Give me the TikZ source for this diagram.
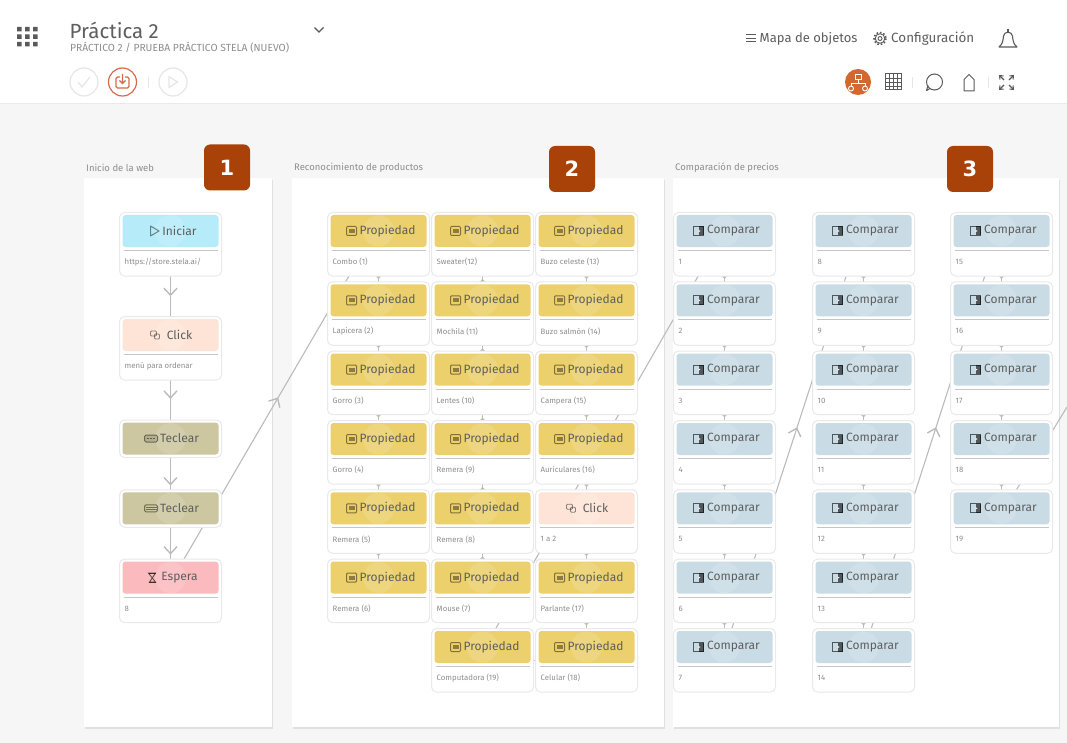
\documentclass[tikz,border=0pt]{standalone}
\usepackage{fontspec}
\setmainfont{Fira Sans}
\newfontfamily\badgefont{DejaVu Sans}
\usetikzlibrary{
    arrows.meta,
    calc,
    decorations.markings,
    positioning,
    shadows
}
\definecolor{pagebg}{HTML}{F6F6F6}
\definecolor{cardline}{HTML}{E9E9E9}
\definecolor{divline}{HTML}{C6C6C6}
\definecolor{linkline}{HTML}{BBBBBB}
\definecolor{labelgray}{HTML}{8E8E8E}
\definecolor{titlegray}{HTML}{5E5E5E}
\definecolor{iniciarfill}{HTML}{B6ECFA}
\definecolor{clickfill}{HTML}{FEE4D6}
\definecolor{teclearfill}{HTML}{CCC7A0}
\definecolor{esperafill}{HTML}{FBBBBE}
\definecolor{propfill}{HTML}{ECD06B}
\definecolor{cmpfill}{HTML}{C9DCE5}
\definecolor{badgefill}{HTML}{A84208}
\definecolor{iconred}{HTML}{D9694C}
\definecolor{iconorange}{HTML}{D2672F}
\definecolor{topicon}{HTML}{5A5A5A}
\definecolor{faint}{HTML}{E6E6E6}
\pgfdeclarelayer{panels}
\pgfdeclarelayer{links}
\pgfsetlayers{panels,links,main}
\tikzset{
    panelbox/.style={fill=white, anchor=north west, inner sep=0pt,
        drop shadow={opacity=.18, shadow xshift=1pt, shadow yshift=-1.5pt}},
    paneltitle/.style={anchor=west, inner sep=0pt, text=labelgray, font=\fontsize{9.5}{10}\selectfont},
    badgebox/.style={fill=badgefill, rounded corners=6pt, minimum size=46pt, inner sep=0pt,
        text=white, font=\badgefont\bfseries\fontsize{21}{22}\selectfont},
    cardbox/.style={draw=cardline, fill=white, line width=1pt, rounded corners=5pt, anchor=north,
        minimum width=102pt, minimum height=63.5pt, inner sep=0pt},
    slimbox/.style={cardbox, minimum height=37.5pt},
    headbox/.style={fill=#1, rounded corners=3pt, minimum width=96pt, minimum height=32pt, inner sep=0pt},
    cardtitle/.style={inner sep=0pt, text=titlegray, font=\fontsize{12}{14}\selectfont},
    cardlabel/.style={anchor=west, inner sep=0pt, text=labelgray, font=\fontsize{7.8}{9}\selectfont},
    link/.style={draw=linkline, line width=1.1pt,
        decoration={markings, mark=at position #1 with {\arrow[line width=1.4pt]{Straight Barb[length=7pt,width=13pt]}}},
        postaction={decorate}},
    link/.default=0.5,
    mainlink/.style={link=#1, line width=1.8pt},
    mainlink/.default=0.5,
    topbtn/.style={draw=faint, line width=1.2pt},
    icon/.style={draw=black, draw opacity=.45, line width=1pt},
    propicon/.pic={
        \draw[icon, rounded corners=1pt] (-32,-4.5) rectangle (-22,4.5);
        \fill[black, opacity=.4] (-30,-2) rectangle (-24,2);
    },
    cmpicon/.pic={
        \draw[draw=black, draw opacity=.6, line width=1pt] (-31,-4.5) rectangle (-21,4.5);
        \fill[black, opacity=.6] (-26,-4.5) rectangle (-21,4.5);
        \fill[white] (-26,-1) -- (-24,0) -- (-26,1) -- cycle;
    },
    playicon/.pic={
        \draw[icon, line join=round] (-20,-5) -- (-11.5,0) -- (-20,5) -- cycle;
    },
    clickicon/.pic={
        \draw[icon, line width=.8pt, rounded corners=1pt] (-20,-4) rectangle (-14,1);
        \draw[icon, line width=.8pt, rounded corners=1pt] (-16,-1) rectangle (-11,4);
    },
    keysicon/.pic={
        \draw[icon, rounded corners=1.5pt, fill=black, fill opacity=.12] (-26,-3.5) rectangle (-13,3.5);
        \draw[icon, line width=.5pt, densely dotted] (-24,0) -- (-15,0);
    },
    linesicon/.pic={
        \draw[icon, rounded corners=1.5pt] (-26,-3.5) rectangle (-13,3.5);
        \draw[icon, line width=.6pt] (-25,-1.2) -- (-14,-1.2) (-25,1.2) -- (-14,1.2);
    },
    waiticon/.pic={
        \draw[draw=black, draw opacity=.6, line width=.9pt] (-22,-4.5) -- (-15,-4.5) -- (-21,4.5) -- (-15,4.5) -- (-22,-4.5) -- cycle;
        \draw[draw=black, draw opacity=.6, line width=.9pt] (-22,-4.5) -- (-15,-4.5) (-22,4.5) -- (-15,4.5);
    }
}
% name, centre x, top y, colour, icon, title, label
\newcommand{\card}[7]{
    \node[cardbox] (#1) at (#2,#3) {};
    \node[headbox=#4] (#1head) at (#2,#3+19) {};
    \fill[white, opacity=.13] (#1head.center) circle (15.5);
    \pic at (#1head.center) {#5};
    \node[cardtitle] (#1title) at ([xshift=9pt]#1head.center) {#6};
    \draw[divline, line width=1.2pt] (#2-47,#3+38.5) -- (#2+47,#3+38.5);
    \node[cardlabel] (#1label) at (#2-46,#3+50) {#7};
}
\newcommand{\slimcard}[6]{
    \node[slimbox] (#1) at (#2,#3) {};
    \node[headbox=#4] (#1head) at (#2,#3+19) {};
    \fill[white, opacity=.13] (#1head.center) circle (15.5);
    \pic at (#1head.center) {#5};
    \node[cardtitle] (#1title) at ([xshift=9pt]#1head.center) {#6};
}
\begin{document}
\begin{tikzpicture}[x=1pt, y=-1pt]
    \useasboundingbox (0,0) rectangle (1067,743);

    % page and panels
    \begin{pgfonlayer}{panels}
        \fill[pagebg] (0,0) rectangle (1067,743);
        \fill[white] (0,0) rectangle (1067,103);
        \draw[cardline] (0,103.5) -- (1067,103.5);
        \node[panelbox, minimum width=188pt, minimum height=549pt] (panelweb) at (84,178) {};
        \node[panelbox, minimum width=372pt, minimum height=549pt] (panelprod) at (292,178) {};
        \node[panelbox, minimum width=386pt, minimum height=549pt] (panelprice) at (673,178) {};
    \end{pgfonlayer}

    \node[paneltitle] (titleweb) at (86,168) {Inicio de la web};
    \node[paneltitle] (titleprod) at (294,168) {Reconocimiento de productos};
    \node[paneltitle] (titleprice) at (675,168) {Comparación de precios};

    \node[badgebox] (badgea) at (227,167.5) {1};
    \node[badgebox] (badgeb) at (572,169) {2};
    \node[badgebox] (badgec) at (970,169) {3};

    % top bar
    \fill[topicon] (17,27) rectangle (21.5,31.5) (25,27) rectangle (29.5,31.5) (33,27) rectangle (37.5,31.5);
    \fill[topicon] (17,34.5) rectangle (21.5,39) (25,34.5) rectangle (29.5,39) (33,34.5) rectangle (37.5,39);
    \fill[topicon] (17,42) rectangle (21.5,46.5) (25,42) rectangle (29.5,46.5) (33,42) rectangle (37.5,46.5);
    \node[anchor=west, inner sep=0pt, text=titlegray, font=\fontsize{20.5}{22}\selectfont] (pagetitle) at (69.5,30) {Práctica 2};
    \node[anchor=west, inner sep=0pt, text=labelgray, font=\fontsize{10.3}{11}\selectfont] (pagesub) at (70,48) {PRÁCTICO 2 / PRUEBA PRÁCTICO STELA (NUEVO)};
    \draw[topicon, line width=1.2pt] (314.5,27.5) -- (319,32) -- (323.5,27.5);

    \draw[topbtn] (84,82) circle (14);
    \draw[faint, line width=1.2pt] (78,82) -- (82,87) -- (90,77);
    \draw[iconred, line width=1.2pt] (122.5,82) circle (14);
    \draw[iconred, line width=1.2pt, rounded corners=1.5pt] (120,77) -- (116,77) -- (116,88) -- (129,88) -- (129,77) -- (125,77);
    \draw[iconred, line width=1.2pt] (122.5,74) -- (122.5,83) (119.5,80.5) -- (122.5,83.5) -- (125.5,80.5);
    \draw[faint, line width=1pt] (148,77) -- (148,88);
    \draw[topbtn] (173,82) circle (14);
    \draw[faint, line width=1.2pt, line join=round] (169,76.5) -- (177.5,82) -- (169,87.5) -- cycle;

    \draw[topicon, line width=1pt] (746,35) -- (756,35) (746,38.5) -- (756,38.5) (746,42) -- (756,42);
    \node[anchor=west, inner sep=0pt, text=titlegray, font=\fontsize{13}{15}\selectfont] (mapatext) at (759.5,38.5) {Mapa de objetos};
    \draw[topicon, line width=.9pt] (880,38.5) circle (4.8) (880,38.5) circle (2);
    \draw[topicon, line width=1.5pt, dash pattern=on 1.6pt off 1.9pt] (880,38.5) circle (6);
    \node[anchor=west, inner sep=0pt, text=titlegray, font=\fontsize{13.4}{15}\selectfont] (configtext) at (891,38.5) {Configuración};
    \draw[topicon, line width=1.1pt, line join=round] (999,47) .. controls (1003,44) and (1003,40) .. (1003.5,36) .. controls (1004,31) and (1012,31) .. (1012.5,36) .. controls (1013,40) and (1013,44) .. (1017,47) -- cycle;
    \draw[topicon, line width=1.1pt] (1008,29) -- (1008,32);

    \fill[iconorange] (858,82) circle (13);
    \draw[white, line width=.9pt] (855,74.5) rectangle (861,79.5);
    \draw[white, line width=.9pt] (858,79.5) -- (858,83) (851,86) -- (851,83) -- (865,83) -- (865,86);
    \draw[white, line width=.9pt] (851,88.5) circle (2.5) (865,88.5) circle (2.5);
    \draw[topicon, line width=1pt] (885,74) rectangle (901,90);
    \draw[topicon, line width=.5pt] (885,78) -- (901,78) (885,82) -- (901,82) (885,86) -- (901,86) (889,74) -- (889,90) (893,74) -- (893,90) (897,74) -- (897,90);
    \draw[faint, line width=1pt] (912,77) -- (912,88);
    \draw[topicon, line width=1pt] (934.5,82) circle (8);
    \draw[topicon, line width=1pt, line join=round] (930,88.5) -- (926.5,90.5) -- (928,85.5);
    \draw[topicon, line width=1pt, line join=round] (964,91) -- (964,79.5) -- (969,74.5) -- (974,79.5) -- (974,91) -- cycle;
    \draw[faint, line width=1pt] (988,77) -- (988,88);
    \draw[topicon, line width=1.1pt, -{Straight Barb[length=3pt,width=5pt]}] (1004,80) -- (999,75);
    \draw[topicon, line width=1.1pt, -{Straight Barb[length=3pt,width=5pt]}] (1009,80) -- (1014,75);
    \draw[topicon, line width=1.1pt, -{Straight Barb[length=3pt,width=5pt]}] (1004,85) -- (999,90);
    \draw[topicon, line width=1.1pt, -{Straight Barb[length=3pt,width=5pt]}] (1009,85) -- (1014,90);

    % inicio de la web
    \card{iniciar}{170.5}{212}{iniciarfill}{playicon}{Iniciar}{https://store.stela.ai/}
    \card{menuclick}{170.5}{316}{clickfill}{clickicon}{Click}{menú para ordenar}
    \slimcard{teclara}{170.5}{419.5}{teclearfill}{keysicon}{Teclear}
    \slimcard{teclarb}{170.5}{489.3}{teclearfill}{linesicon}{Teclear}
    \card{espera}{170.5}{558.6}{esperafill}{waiticon}{Espera}{8}

    % reconocimiento de productos
    \card{prop1}{378.5}{212}{propfill}{propicon}{Propiedad}{Combo (1)}
    \card{prop2}{378.5}{281.3}{propfill}{propicon}{Propiedad}{Lapicera (2)}
    \card{prop3}{378.5}{350.6}{propfill}{propicon}{Propiedad}{Gorro (3)}
    \card{prop4}{378.5}{420}{propfill}{propicon}{Propiedad}{Gorro (4)}
    \card{prop5}{378.5}{489.3}{propfill}{propicon}{Propiedad}{Remera (5)}
    \card{prop6}{378.5}{558.6}{propfill}{propicon}{Propiedad}{Remera (6)}

    \card{prop12}{482.5}{212}{propfill}{propicon}{Propiedad}{Sweater(12)}
    \card{prop11}{482.5}{281.3}{propfill}{propicon}{Propiedad}{Mochila (11)}
    \card{prop10}{482.5}{350.6}{propfill}{propicon}{Propiedad}{Lentes (10)}
    \card{prop9}{482.5}{420}{propfill}{propicon}{Propiedad}{Remera (9)}
    \card{prop8}{482.5}{489.3}{propfill}{propicon}{Propiedad}{Remera (8)}
    \card{prop7}{482.5}{558.6}{propfill}{propicon}{Propiedad}{Mouse (7)}
    \card{prop19}{482.5}{628}{propfill}{propicon}{Propiedad}{Computadora (19)}

    \card{prop13}{586.5}{212}{propfill}{propicon}{Propiedad}{Buzo celeste (13)}
    \card{prop14}{586.5}{281.3}{propfill}{propicon}{Propiedad}{Buzo salmón (14)}
    \card{prop15}{586.5}{350.6}{propfill}{propicon}{Propiedad}{Campera (15)}
    \card{prop16}{586.5}{420}{propfill}{propicon}{Propiedad}{Auriculares (16)}
    \card{propclick}{586.5}{489.3}{clickfill}{clickicon}{Click}{1 a 2}
    \card{prop17}{586.5}{558.6}{propfill}{propicon}{Propiedad}{Parlante (17)}
    \card{prop18}{586.5}{628}{propfill}{propicon}{Propiedad}{Celular (18)}

    % comparacion de precios
    \card{cmp1}{724.5}{212}{cmpfill}{cmpicon}{Comparar}{1}
    \card{cmp2}{724.5}{281.3}{cmpfill}{cmpicon}{Comparar}{2}
    \card{cmp3}{724.5}{350.6}{cmpfill}{cmpicon}{Comparar}{3}
    \card{cmp4}{724.5}{420}{cmpfill}{cmpicon}{Comparar}{4}
    \card{cmp5}{724.5}{489.3}{cmpfill}{cmpicon}{Comparar}{5}
    \card{cmp6}{724.5}{558.6}{cmpfill}{cmpicon}{Comparar}{6}
    \card{cmp7}{724.5}{628}{cmpfill}{cmpicon}{Comparar}{7}

    \card{cmp8}{863.5}{212}{cmpfill}{cmpicon}{Comparar}{8}
    \card{cmp9}{863.5}{281.3}{cmpfill}{cmpicon}{Comparar}{9}
    \card{cmp10}{863.5}{350.6}{cmpfill}{cmpicon}{Comparar}{10}
    \card{cmp11}{863.5}{420}{cmpfill}{cmpicon}{Comparar}{11}
    \card{cmp12}{863.5}{489.3}{cmpfill}{cmpicon}{Comparar}{12}
    \card{cmp13}{863.5}{558.6}{cmpfill}{cmpicon}{Comparar}{13}
    \card{cmp14}{863.5}{628}{cmpfill}{cmpicon}{Comparar}{14}

    \card{cmp15}{1001.5}{212}{cmpfill}{cmpicon}{Comparar}{15}
    \card{cmp16}{1001.5}{281.3}{cmpfill}{cmpicon}{Comparar}{16}
    \card{cmp17}{1001.5}{350.6}{cmpfill}{cmpicon}{Comparar}{17}
    \card{cmp18}{1001.5}{420}{cmpfill}{cmpicon}{Comparar}{18}
    \card{cmp19}{1001.5}{489.3}{cmpfill}{cmpicon}{Comparar}{19}

    \coordinate (nextpanel) at (1067,407);

    % connectors run under the cards
    \begin{pgfonlayer}{links}
        \draw
        (iniciar.center) edge[mainlink] (menuclick.center)
        (menuclick.center) edge[mainlink=0.56] (teclara.center)
        (teclara.center) edge[mainlink=0.67] (teclarb.center)
        (teclarb.center) edge[mainlink=0.56] (espera.center)
        ([xshift=-5pt]espera.center) edge[link=0.558] ([xshift=-11pt]prop1.center)
        (prop1.center) edge[link] (prop2.center)
        (prop2.center) edge[link] (prop3.center)
        (prop3.center) edge[link] (prop4.center)
        (prop4.center) edge[link] (prop5.center)
        (prop5.center) edge[link] (prop6.center)
        (prop6.center) edge[link] (prop7.center)
        (prop7.center) edge[link] (prop8.center)
        (prop8.center) edge[link] (prop9.center)
        (prop9.center) edge[link] (prop10.center)
        (prop10.center) edge[link] (prop11.center)
        (prop11.center) edge[link] (prop12.center)
        (prop12.center) edge[link] (prop13.center)
        (prop13.center) edge[link] (prop14.center)
        (prop14.center) edge[link] (prop15.center)
        (prop15.center) edge[link] (prop16.center)
        (prop16.center) edge[link] (propclick.center)
        (propclick.center) edge[link] (prop17.center)
        (prop17.center) edge[link] (prop18.center)
        (prop18.center) edge[link] (prop19.center)
        ([xshift=-5pt]prop19.center) edge[link=0.558] ([xshift=-8pt]cmp1.center)
        (cmp1.center) edge[link] (cmp2.center)
        (cmp2.center) edge[link] (cmp3.center)
        (cmp3.center) edge[link] (cmp4.center)
        (cmp4.center) edge[link] (cmp5.center)
        (cmp5.center) edge[link] (cmp6.center)
        (cmp6.center) edge[link] (cmp7.center)
        ([xshift=-3pt]cmp7.center) edge[link=0.56] ([xshift=-7pt]cmp8.center)
        (cmp8.center) edge[link] (cmp9.center)
        (cmp9.center) edge[link] (cmp10.center)
        (cmp10.center) edge[link] (cmp11.center)
        (cmp11.center) edge[link] (cmp12.center)
        (cmp12.center) edge[link] (cmp13.center)
        (cmp13.center) edge[link] (cmp14.center)
        ([xshift=-2.5pt]cmp14.center) edge[link=0.56] ([xshift=-6.5pt]cmp15.center)
        (cmp15.center) edge[link] (cmp16.center)
        (cmp16.center) edge[link] (cmp17.center)
        (cmp17.center) edge[link] (cmp18.center)
        (cmp18.center) edge[link] (cmp19.center)
        ([xshift=-4.5pt]cmp19.center) edge[link] (nextpanel);
    \end{pgfonlayer}
\end{tikzpicture}
\end{document}
